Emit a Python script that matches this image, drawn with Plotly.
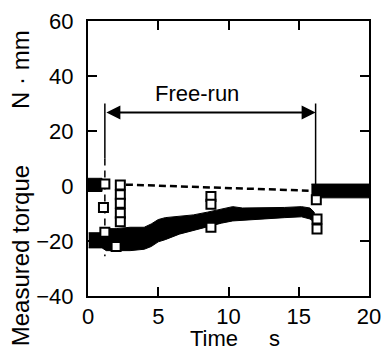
import plotly.graph_objects as go

# ---- data (time in s, torque in N·mm) ----
# dense sample bands: upper / lower envelope
pre_t = [0.0, 1.0]
pre_top = [2.8, 2.8]
pre_bot = [-2.0, -2.0]

run_t = [0.05, 1.0, 1.3, 2.0, 3.0, 4.0, 4.5, 5.0, 5.5, 6.5, 7.5, 8.5, 9.5, 10.3, 11.0, 12.5, 14.0, 15.2, 15.8, 16.1]
run_top = [-17.0, -17.0, -15.5, -15.5, -15.0, -15.0, -13.8, -12.2, -11.5, -11.0, -10.5, -9.5, -8.3, -7.5, -8.0, -8.0, -7.8, -7.5, -8.0, -9.5]
run_bot = [-22.5, -22.5, -23.5, -23.5, -23.5, -23.0, -22.0, -20.3, -19.5, -17.5, -16.0, -14.8, -13.5, -12.7, -12.5, -12.0, -11.5, -11.2, -12.0, -13.0]

post_t = [15.9, 20.0]
post_top = [0.7, 0.7]
post_bot = [-4.3, -4.3]

# scattered samples (open squares)
sq_t = [1.2, 1.1, 1.2, 2.0, 2.3, 2.3, 2.3, 2.3, 2.3, 8.75, 8.75, 8.75, 16.25, 16.3, 16.3]
sq_v = [0.7, -7.8, -16.8, -22.0, 0.4, -3.2, -6.3, -9.9, -13.0, -3.8, -6.6, -15.0, -5.0, -12.0, -15.6]

# dashed reference line
ref_t = [2.7, 15.7]
ref_v = [0.5, -1.7]

# free-run interval
free_start, free_end = 1.2, 16.2
marker_top, arrow_level, dash_split, dash_bottom, right_bottom = 30.0, 26.7, 10.0, -25.5, 0.7

x_ticks = [0, 5, 10, 15, 20]
y_ticks = [-40, -20, 0, 20, 40, 60]

FONT = "Liberation Sans, Arial, sans-serif"

fig = go.Figure()


def band(t, top, bot):
    fig.add_trace(go.Scatter(
        x=t + t[::-1], y=top + bot[::-1], fill="toself", mode="lines",
        fillcolor="black", line=dict(color="black", width=1),
        hoverinfo="skip", showlegend=False))


band(pre_t, pre_top, pre_bot)
band(run_t, run_top, run_bot)
band(post_t, post_top, post_bot)

# dashed reference line
fig.add_trace(go.Scatter(x=ref_t, y=ref_v, mode="lines",
                         line=dict(color="black", width=2.5, dash="7px,4px"),
                         showlegend=False, hoverinfo="skip"))

# vertical markers of free-run interval
fig.add_trace(go.Scatter(x=[free_start, free_start], y=[marker_top, dash_split], mode="lines",
                         line=dict(color="black", width=1.5), showlegend=False, hoverinfo="skip"))
fig.add_trace(go.Scatter(x=[free_start, free_start], y=[dash_split, dash_bottom], mode="lines",
                         line=dict(color="black", width=1.5, dash="7px,5px"),
                         showlegend=False, hoverinfo="skip"))
fig.add_trace(go.Scatter(x=[free_end, free_end], y=[marker_top, right_bottom], mode="lines",
                         line=dict(color="black", width=1.5), showlegend=False, hoverinfo="skip"))

# open squares
fig.add_trace(go.Scatter(x=sq_t, y=sq_v, mode="markers",
                         marker=dict(symbol="square", size=9, color="white",
                                     line=dict(color="black", width=2)),
                         showlegend=False, hoverinfo="skip"))

# double arrow
fig.add_annotation(x=free_end, y=arrow_level, ax=free_start, ay=arrow_level,
                   xref="x", yref="y", axref="x", ayref="y", text="",
                   showarrow=True, arrowside="end+start", arrowhead=2, startarrowhead=2,
                   arrowsize=1.4, startarrowsize=1.4, arrowwidth=2, arrowcolor="black")
fig.add_annotation(x=7.75, y=33.5, xref="x", yref="y",
                   text="Free-run", showarrow=False,
                   font=dict(family=FONT, size=22, color="black"))

# axis titles as annotations (paper coordinates)
tfont = dict(family=FONT, size=22, color="black")
yfont = dict(family=FONT, size=24, color="black")
fig.add_annotation(x=-0.24, y=-0.19, xref="paper", yref="paper", textangle=-90,
                   text="Measured torque", showarrow=False,
                   xanchor="center", yanchor="bottom", font=yfont)
fig.add_annotation(x=-0.24, y=0.975, xref="paper", yref="paper", textangle=-90,
                   text="N\u00a0\u00b7\u00a0mm", showarrow=False,
                   xanchor="center", yanchor="top", font=yfont)
fig.add_annotation(x=0.450, y=-0.154, xref="paper", yref="paper",
                   text="Time", showarrow=False,
                   xanchor="center", yanchor="middle", font=tfont)
fig.add_annotation(x=0.665, y=-0.154, xref="paper", yref="paper",
                   text="s", showarrow=False,
                   xanchor="center", yanchor="middle", font=tfont)

axis_common = dict(showline=True, linecolor="black", linewidth=2, mirror="ticks",
                   ticks="inside", ticklen=9, tickwidth=2, tickcolor="black",
                   showgrid=False, zeroline=False, automargin=False,
                   ticklabeloverflow="allow",
                   tickfont=dict(family=FONT, size=22, color="black"))

fig.update_xaxes(range=[0, 20], tickvals=x_ticks, ticktext=[str(v) for v in x_ticks], **axis_common)
fig.update_yaxes(range=[-40, 60], tickvals=y_ticks,
                 ticktext=[("\u2212" + str(-v)) if v < 0 else str(v) for v in y_ticks],
                 ticklabelstandoff=8, **axis_common)

fig.update_layout(width=381, height=349, margin=dict(l=88, r=12, t=21, b=53),
                  plot_bgcolor="white", paper_bgcolor="white", showlegend=False)

fig.write_html("out.html", config={"displayModeBar": False},
               post_script="document.body.style.margin='0';")
